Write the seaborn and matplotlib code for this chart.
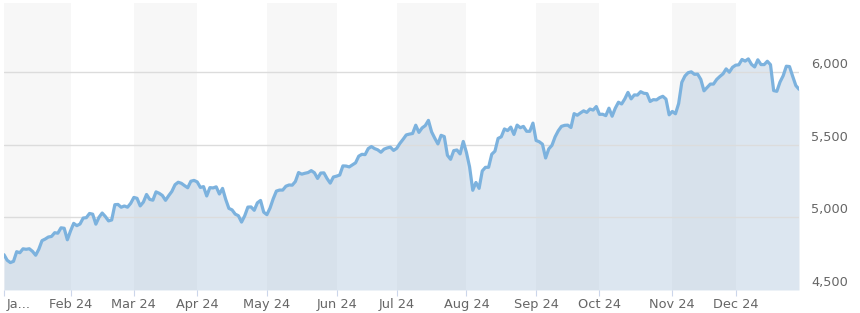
import numpy as np
import pandas as pd
import matplotlib
matplotlib.use("Agg")
import matplotlib.pyplot as plt
from matplotlib.transforms import ScaledTranslation
import seaborn as sns

# ---- data -------------------------------------------------------------
holidays = ["2024-01-01", "2024-01-15", "2024-02-19", "2024-03-29", "2024-05-27",
            "2024-06-19", "2024-07-04", "2024-09-02", "2024-11-28", "2024-12-25"]

jan = [4742.83, 4704.81, 4688.68, 4697.24, 4763.54, 4756.50, 4783.45, 4780.24, 4783.83, 4765.98,
       4739.21, 4780.94, 4839.81, 4850.43, 4864.60, 4868.55, 4894.16, 4890.97, 4927.93, 4924.97, 4845.65]
feb = [4906.19, 4958.61, 4942.81, 4954.23, 4995.06, 4997.91, 5026.61, 5021.84, 4953.17, 5000.62,
       5029.73, 5005.57, 4975.51, 4981.80, 5087.03, 5088.80, 5069.53, 5078.18, 5069.76, 5096.27]
mar = [5137.08, 5130.95, 5078.65, 5104.76, 5157.36, 5123.69, 5117.94, 5175.27, 5165.31, 5150.48,
       5117.09, 5149.42, 5178.51, 5224.62, 5241.53, 5234.18, 5218.19, 5203.58, 5248.49, 5254.35]
apr = [5243.77, 5205.81, 5211.49, 5147.21, 5204.34, 5202.39, 5209.91, 5160.64, 5199.06, 5123.41,
       5061.82, 5051.41, 5022.21, 5011.12, 4967.23, 5010.60, 5070.55, 5071.63, 5048.42, 5099.96,
       5116.17, 5035.69]
may = [5018.39, 5064.20, 5127.79, 5180.74, 5187.70, 5187.67, 5214.08, 5222.68, 5221.42, 5246.68,
       5308.15, 5297.10, 5303.27, 5308.13, 5321.41, 5307.01, 5267.84, 5304.72, 5306.04, 5266.95,
       5235.48, 5277.51]
jun = [5283.40, 5291.34, 5354.03, 5352.96, 5346.99, 5360.79, 5375.32, 5421.03, 5433.74, 5431.60,
       5473.23, 5487.03, 5473.17, 5464.62, 5447.87, 5469.30, 5477.90, 5482.87, 5460.48]
jul = [5475.09, 5509.01, 5537.02, 5567.19, 5572.85, 5576.98, 5633.91, 5584.54, 5615.35, 5631.22,
       5667.20, 5588.27, 5544.59, 5505.00, 5564.41, 5555.74, 5427.13, 5399.22, 5459.10, 5463.54,
       5436.44, 5522.30]
aug = [5446.68, 5346.56, 5186.33, 5240.03, 5199.50, 5319.31, 5344.16, 5344.39, 5434.43, 5455.21,
       5543.22, 5554.25, 5608.25, 5597.12, 5620.85, 5570.64, 5634.61, 5616.84, 5625.80, 5592.18,
       5591.96, 5648.40]
sep = [5528.93, 5520.07, 5503.41, 5408.42, 5471.05, 5495.52, 5554.13, 5595.76, 5626.02, 5633.09,
       5634.58, 5618.26, 5713.64, 5702.55, 5718.57, 5732.93, 5722.26, 5745.37, 5738.17, 5762.48]
octo = [5708.75, 5709.54, 5699.94, 5751.07, 5695.94, 5751.13, 5792.04, 5780.05, 5815.03, 5859.85,
        5815.26, 5842.47, 5841.47, 5864.67, 5853.98, 5851.20, 5797.42, 5809.86, 5808.12, 5823.52,
        5832.92, 5813.67, 5705.45]
nov = [5728.80, 5712.69, 5782.76, 5929.04, 5973.10, 5995.54, 6001.35, 5983.99, 5985.38, 5949.17,
       5870.62, 5893.62, 5916.98, 5917.11, 5948.71, 5969.34, 5987.37, 6021.63, 5998.74, 6032.38]
dec = [6047.15, 6049.88, 6086.49, 6075.11, 6090.27, 6052.85, 6034.91, 6084.19, 6051.25, 6051.09,
       6074.08, 6050.61, 5872.16, 5867.08, 5930.85, 5974.07, 6040.04, 6037.59, 5970.84, 5906.94,
       5881.63]

month_labels = ["Ja...", "Feb 24", "Mar 24", "Apr 24", "May 24", "Jun 24", "Jul 24",
                "Aug 24", "Sep 24", "Oct 24", "Nov 24", "Dec 24"]
y_ticks = [4500, 5000, 5500, 6000]
y_tick_labels = ["4,500", "5,000", "5,500", "6,000"]

# ---- table ------------------------------------------------------------
closes = jan + feb + mar + apr + may + jun + jul + aug + sep + octo + nov + dec
dates = pd.bdate_range("2024-01-02", "2024-12-31", freq="C", holidays=holidays)
df = pd.DataFrame({"date": dates, "close": closes})
df["idx"] = np.arange(len(df))
month_starts = df.groupby(df["date"].dt.month)["idx"].min().tolist()

# ---- plot -------------------------------------------------------------
sns.set_style("white")
plt.rcParams["font.family"] = ["DejaVu Sans"]

fig = plt.figure(figsize=(8.6, 3.13), dpi=100)
ax = fig.add_axes([4 / 860, (313 - 290) / 313, (799 - 4) / 860, (290 - 3) / 313])

last = len(df) - 1
bounds = month_starts + [last]
for i in range(len(month_starts)):
    if i % 2 == 0:
        ax.axvspan(bounds[i], bounds[i + 1], color="#f7f7f7", zorder=0, lw=0)

for yv in y_ticks[1:]:
    ax.axhline(yv, color="#dcdcdc", lw=1.0, zorder=2)

ax.fill_between(df["idx"], df["close"], 4500, color=(142 / 255, 175 / 255, 208 / 255),
                alpha=0.3, lw=0, zorder=1)
sns.lineplot(data=df, x="idx", y="close", ax=ax, color="#7cb2de", lw=2.3, zorder=3)

ax.set_xlim(0, last)
ax.set_ylim(4500, 6475)
ax.set_xlabel("")
ax.set_ylabel("")
for s in ax.spines.values():
    s.set_visible(False)

ax.set_xticks(month_starts)
ax.set_xticklabels(month_labels)
ax.tick_params(axis="x", length=4, width=0.8, color="#ccd6eb", pad=2,
               labelsize=9.3, labelcolor="#666666", bottom=True)
xl = ax.get_xticklabels()
xl[0].set_ha("left")
xl[0].set_transform(xl[0].get_transform() + ScaledTranslation(3 / 100, 0, fig.dpi_scale_trans))

ax.yaxis.tick_right()
ax.set_yticks(y_ticks)
ax.set_yticklabels(y_tick_labels)
ax.tick_params(axis="y", length=0, pad=9, labelsize=9.3, labelcolor="#666666")
for lab in ax.get_yticklabels():
    lab.set_transform(lab.get_transform() + ScaledTranslation(0, 9 / 100, fig.dpi_scale_trans))

fig.savefig("out.png", dpi=100)
